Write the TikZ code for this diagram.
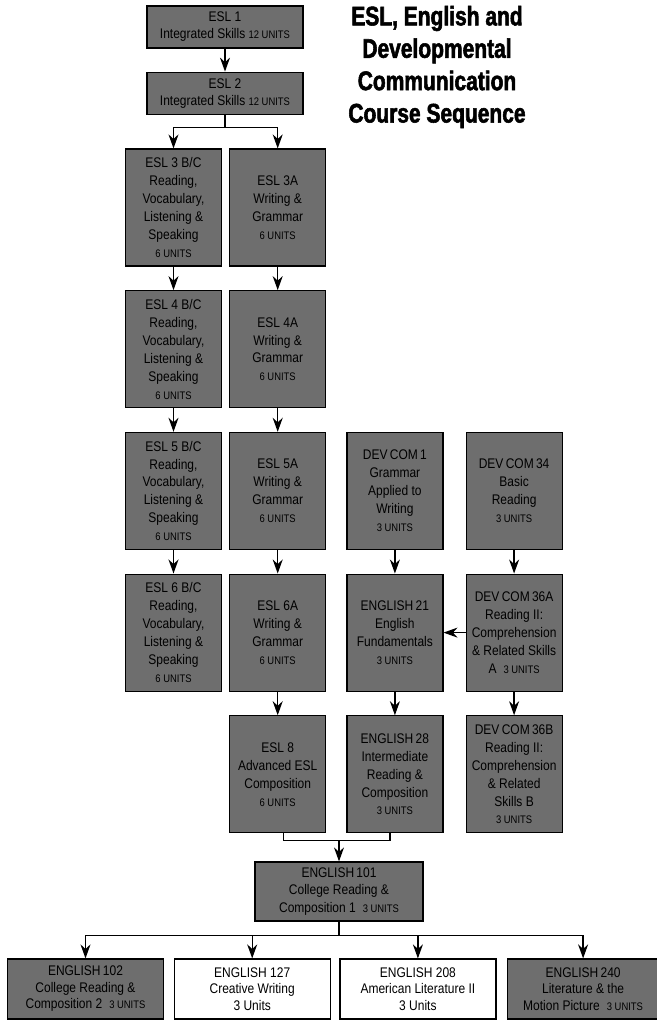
\documentclass[tikz,border=0pt]{standalone}
\usepackage{fontspec}
\setmainfont{Liberation Sans}[FakeStretch=0.86]
\newfontfamily\titlefont{Liberation Sans}[FakeStretch=0.78]
\usepackage{tikz}
\usetikzlibrary{arrows.meta,positioning}
\definecolor{coursegray}{HTML}{6E6E6E}
\newcommand{\crsunits}[1]{{\fontsize{11}{12}\selectfont #1 UNITS}}

\begin{document}
\begin{tikzpicture}[
  x=1bp,y=-1bp,
  >={Stealth[length=14bp,width=10bp]},
  course/.style={draw=black,line width=1.2bp,fill=coursegray,align=center,
                 minimum width=96bp,minimum height=117bp,inner sep=1bp,
                 font=\fontsize{14}{18}\selectfont},
  topbox/.style={course,minimum width=156bp,minimum height=42bp,
                 font=\fontsize{14}{17}\selectfont},
  exitbox/.style={course,minimum width=156bp,minimum height=60bp,
                  font=\fontsize{14}{16.5}\selectfont},
  elective/.style={exitbox,fill=white},
  link/.style={line width=1.3bp,->},
  rail/.style={line width=1.3bp}
]
  \useasboundingbox (0,0) rectangle (657,1021);

  \node[font={\titlefont\bfseries\fontsize{27}{32.5}\selectfont\addfontfeature{FakeBold=2}},align=center] (title) at (437,67)
    {ESL, English and\\Developmental\\Communication\\Course Sequence};

  \node[topbox] (esl1) at (225,27) {ESL 1\\Integrated Skills \crsunits{12}};
  \node[topbox,below=23bp of esl1] (esl2) {ESL 2\\Integrated Skills \crsunits{12}};

  \node[course] (esl3bc) at (173.5,207.5) {ESL 3 B/C\\Reading,\\Vocabulary,\\Listening \&\\Speaking\\\crsunits{6}};
  \node[course,right=7bp of esl3bc] (esl3a) {ESL 3A\\Writing \&\\Grammar\\\crsunits{6}};
  \node[course,below=23.5bp of esl3bc] (esl4bc) {ESL 4 B/C\\Reading,\\Vocabulary,\\Listening \&\\Speaking\\\crsunits{6}};
  \node[course,below=23.5bp of esl3a] (esl4a) {ESL 4A\\Writing \&\\Grammar\\\crsunits{6}};
  \node[course,below=23.5bp of esl4bc] (esl5bc) {ESL 5 B/C\\Reading,\\Vocabulary,\\Listening \&\\Speaking\\\crsunits{6}};
  \node[course,below=23.5bp of esl4a] (esl5a) {ESL 5A\\Writing \&\\Grammar\\\crsunits{6}};
  \node[course,below=23.5bp of esl5bc] (esl6bc) {ESL 6 B/C\\Reading,\\Vocabulary,\\Listening \&\\Speaking\\\crsunits{6}};
  \node[course,below=23.5bp of esl5a] (esl6a) {ESL 6A\\Writing \&\\Grammar\\\crsunits{6}};
  \node[course,below=23.5bp of esl6a] (esl8) {ESL 8\\Advanced ESL\\Composition\\\crsunits{6}};

  \node[course,right=20bp of esl5a] (dc1) {DEV\,COM\,1\\Grammar\\Applied to\\Writing\\\crsunits{3}};
  \node[course,right=22bp of dc1] (dc34) {DEV\,COM\,34\\Basic\\Reading\\\crsunits{3}};
  \node[course,below=23.5bp of dc1] (eng21) {ENGLISH\,21\\English\\Fundamentals\\\crsunits{3}};
  \node[course,below=23.5bp of dc34] (dc36a) {DEV\,COM\,36A\\Reading II:\\Comprehension\\\& Related Skills\\A\enspace\crsunits{3}};
  \node[course,below=23.5bp of eng21] (eng28) {ENGLISH\,28\\Intermediate\\Reading \&\\Composition\\\crsunits{3}};
  \node[course,below=23.5bp of dc36a] (dc36b) {DEV\,COM\,36B\\Reading II:\\Comprehension\\\& Related\\Skills B\\\crsunits{3}};

  \node[course,minimum width=168bp,minimum height=59bp] (eng101) at (339,891.5)
    {ENGLISH\,101\\College Reading \&\\Composition 1\enspace\crsunits{3}};

  \node[exitbox] (eng102) at (85.5,989) {ENGLISH\,102\\College Reading \&\\Composition 2\enspace\crsunits{3}};
  \node[elective,right=9.5bp of eng102] (eng127) {ENGLISH 127\\Creative Writing\\3 Units};
  \node[elective,right=8.5bp of eng127] (eng208) {ENGLISH 208\\American Literature II\\3 Units};
  \node[exitbox,right=10bp of eng208,minimum width=152bp] (eng240) {ENGLISH\,240\\Literature \& the\\Motion Picture\enspace\crsunits{3}};

  \coordinate[below=13bp of esl2] (fork);
  \coordinate[above=21bp of eng101] (join);
  \coordinate[below=14bp of eng101] (spread);

  \draw[link] (esl1) -- (esl2);
  \draw[link] (esl2.south) -- (fork) -| (esl3bc.north);
  \draw[link] (esl2.south) -- (fork) -| (esl3a.north);

  \draw[link] (esl3bc) -- (esl4bc);
  \draw[link] (esl4bc) -- (esl5bc);
  \draw[link] (esl5bc) -- (esl6bc);
  \draw[link] (esl3a) -- (esl4a);
  \draw[link] (esl4a) -- (esl5a);
  \draw[link] (esl5a) -- (esl6a);
  \draw[link] (esl6a) -- (esl8);
  \draw[link] (dc1) -- (eng21);
  \draw[link] (eng21) -- (eng28);
  \draw[link] (dc34) -- (dc36a);
  \draw[link] (dc36a) -- (dc36b);
  \draw[link] (dc36a) -- (eng21);

  \draw[rail] ([xshift=6bp]esl8.south) |- (join) -| ([xshift=-5bp]eng28.south);
  \draw[link] (join) -- (eng101);

  \foreach \c in {eng102,eng127,eng208,eng240}
    \draw[link] (eng101.south) -- (spread) -| (\c.north);
\end{tikzpicture}
\end{document}
